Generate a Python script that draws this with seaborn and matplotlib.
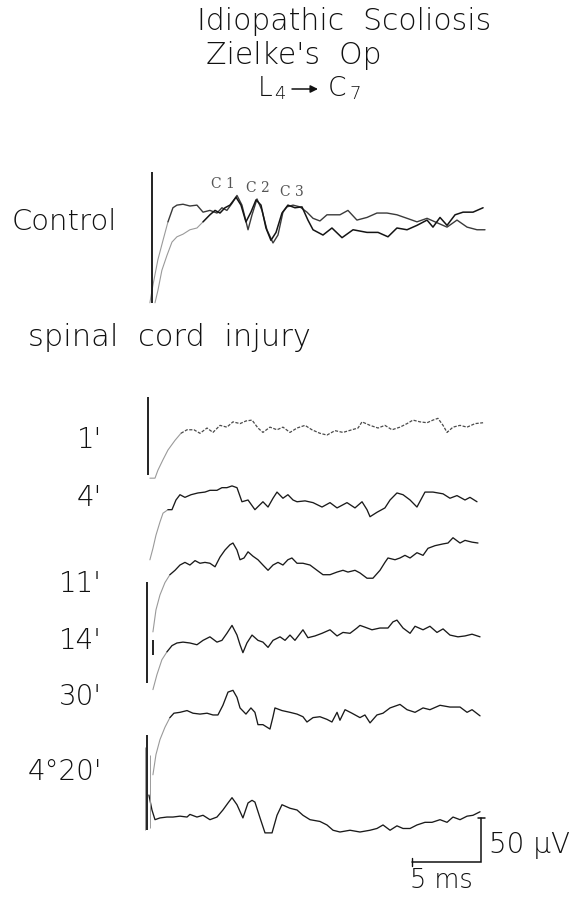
import numpy as np
import pandas as pd
import matplotlib
matplotlib.use("Agg")
import matplotlib.pyplot as plt
import seaborn as sns

sns.set_theme(style="white")
plt.rcParams["font.family"] = ["DejaVu Sans"]

# ---------------------------------------------------------------------------
# Spinal cord evoked potentials, L4 stimulation -> C7 recording.
# Time in ms after stimulus, amplitude in microvolts (positive up).
# ---------------------------------------------------------------------------

# Control, two superimposed sweeps
control_a_t = [0.14, 0.36, 0.72, 1.09, 1.45, 1.81, 2.10, 2.54, 3.04, 3.55, 3.99, 4.49, 5.00, 5.36,
               5.72, 6.09, 6.45, 6.81, 7.25, 7.54, 7.90, 8.26, 8.62, 9.06, 9.42, 9.78, 10.07, 10.51,
               11.01, 11.52, 11.96, 12.46, 12.97, 13.91, 14.49, 15.14, 15.87, 16.59, 17.32, 18.04,
               18.77, 19.49, 20.22, 20.94, 21.67, 22.39, 23.12, 23.84, 24.42]
control_a_uv = [-102, -82, -53, -31, -10, 6, 9, 10, 8, 9, 1, 3, 0, 6,
                3, 11, 20, 9, -19, -2, 16, 3, -19, -34, -25, 1, 7, 9,
                7, 1, -6, -9, -2, -2, 3, -8, -5, 0, 0, -2,
                -6, -10, -6, -11, -16, -8, -16, -19, -19]

control_b_t = [0.51, 0.72, 1.01, 1.38, 1.74, 2.10, 2.54, 3.04, 3.55, 3.99, 4.49, 4.86, 5.22, 5.58,
               5.94, 6.38, 6.74, 7.10, 7.46, 7.83, 8.19, 8.55, 8.91, 9.28, 9.71, 10.14, 10.65, 11.16,
               11.59, 11.96, 12.68, 13.33, 14.06, 14.86, 15.87, 16.67, 17.39, 18.04, 18.77, 19.49,
               20.22, 20.65, 21.16, 21.67, 22.25, 22.83, 23.55, 24.28]
control_b_uv = [-102, -88, -65, -48, -33, -27, -24, -19, -17, -10, -2, 3, 0, 6,
                9, 18, 9, -10, 1, 15, 9, -17, -31, -22, 0, 9, 6, 7,
                -8, -19, -25, -17, -28, -19, -22, -22, -27, -17, -19, -14,
                -8, -16, -5, -14, -2, 1, 1, 6]

# After spinal cord injury
min1_t = [0.14, 0.51, 0.72, 1.09, 1.45, 1.96, 2.39, 2.83, 3.33, 3.77, 4.28, 4.71, 5.22, 5.72,
          6.16, 6.67, 7.10, 7.54, 7.97, 8.33, 8.84, 9.35, 9.78, 10.29, 10.80, 11.38, 11.88, 12.46,
          12.97, 13.55, 14.13, 14.78, 15.22, 15.51, 16.09, 16.67, 17.17, 17.68, 18.26, 18.77,
          19.20, 19.71, 20.22, 20.65, 21.01, 21.38, 21.67, 22.10, 22.61, 23.12, 23.70, 24.28]
min1_uv = [-57, -57, -48, -36, -25, -14, -6, -2, -2, -6, 0, -5, 3, 1,
           7, 5, 8, 9, 0, -5, 1, -2, 1, -5, 0, 3, -2, -6,
           -8, -3, -5, -2, 0, 7, 3, 0, 3, -2, 1, 5,
           9, 7, 6, 9, 11, 3, -5, 1, 3, 1, 5, 6]

min4_t = [0.14, 0.36, 0.58, 0.87, 1.09, 1.45, 1.74, 2.03, 2.32, 2.68, 3.12, 3.62, 4.13, 4.49,
          5.00, 5.36, 5.72, 6.09, 6.45, 6.81, 7.25, 7.75, 8.33, 8.70, 9.06, 9.35, 9.78, 10.14,
          10.51, 10.80, 11.38, 11.96, 12.61, 13.19, 13.70, 14.42, 15.00, 15.51, 15.87, 16.09,
          16.59, 17.17, 17.54, 18.04, 18.48, 18.99, 19.49, 20.07, 20.65, 21.38, 21.88, 22.39,
          22.97, 23.33, 23.84]
min4_uv = [-68, -55, -40, -25, -15, -11, -11, 0, 6, 3, 6, 8, 9, 11,
           11, 14, 14, 16, 14, -2, 0, -11, -2, -8, 2, 9, 2, 6,
           0, -2, -1, -3, -8, -3, -9, -3, -9, -2, -11, -19,
           -14, -9, 0, 8, 6, 0, -8, 9, 9, 7, 2, 5,
           0, 3, -2]

min11_t = [0.36, 0.58, 0.87, 1.23, 1.59, 1.96, 2.32, 2.68, 3.04, 3.41, 3.77, 4.13, 4.49, 4.86,
           5.22, 5.58, 5.94, 6.16, 6.45, 6.67, 6.96, 7.25, 7.61, 7.97, 8.33, 8.70, 9.06, 9.42,
           9.78, 10.14, 10.43, 10.80, 11.23, 11.74, 12.25, 12.68, 13.19, 13.70, 14.13, 14.49,
           15.00, 15.36, 15.87, 16.30, 16.81, 17.17, 17.39, 17.90, 18.26, 18.62, 18.99, 19.49,
           19.93, 20.29, 20.80, 21.38, 21.74, 22.10, 22.61, 22.97, 23.48, 23.91]
min11_uv = [-76, -51, -34, -20, -11, -6, 0, 3, 0, 5, 2, 3, 2, -2,
            9, 17, 23, 25, 17, 6, 8, 15, 10, 6, 0, -6, 0, 3,
            0, 6, 8, 2, 2, 0, -6, -11, -11, -8, -6, -8,
            -6, -9, -15, -15, -6, 3, 8, 6, 8, 11, 8, 14,
            11, 19, 22, 24, 25, 31, 25, 28, 26, 25]

min14_t = [0.36, 0.65, 1.01, 1.38, 1.74, 2.10, 2.54, 3.04, 3.55, 3.99, 4.49, 5.00, 5.36, 5.72,
           6.09, 6.45, 6.67, 6.88, 7.17, 7.54, 7.97, 8.33, 8.70, 9.06, 9.57, 9.93, 10.29, 10.65,
           11.23, 11.59, 12.10, 12.61, 13.19, 13.70, 14.13, 14.64, 15.14, 15.36, 15.72, 16.23,
           16.81, 17.39, 17.75, 18.04, 18.48, 18.99, 19.35, 19.93, 20.43, 20.94, 21.38, 21.88,
           22.46, 22.97, 23.48, 24.06]
min14_uv = [-53, -36, -19, -10, -3, 0, 1, 0, -2, 3, 7, 1, 3, 11,
            20, 9, -2, -11, 0, 9, 3, 1, -5, 3, 7, 3, 9, 3,
            15, 6, 8, 11, 15, 8, 12, 11, 17, 20, 18, 15,
            17, 17, 24, 26, 17, 11, 19, 15, 19, 12, 16, 9,
            7, 8, 10, 7]

min30_t = [0.36, 0.58, 0.87, 1.23, 1.59, 1.88, 2.32, 2.83, 3.26, 3.77, 4.28, 4.71, 5.07, 5.43,
           5.80, 6.16, 6.45, 6.67, 7.10, 7.46, 7.75, 7.97, 8.33, 8.84, 9.06, 9.20, 9.71, 10.29,
           10.80, 11.23, 11.52, 11.96, 12.46, 12.97, 13.33, 13.70, 13.91, 14.28, 14.78, 15.36,
           15.72, 16.09, 16.59, 17.03, 17.54, 18.26, 18.77, 19.35, 19.93, 20.43, 21.16, 21.88,
           22.61, 23.12, 23.48, 24.06]
min30_uv = [-68, -45, -28, -14, -3, 2, 3, 5, 2, 1, 2, 0, 0, 11,
            26, 28, 20, 8, 1, 8, 3, -11, -11, -16, -2, 8, 5, 3,
            1, -2, -8, -3, -2, -5, -8, 3, -6, 6, 2, -3,
            0, -9, 0, 2, 8, 12, 6, 3, 8, 6, 11, 9,
            9, 3, 6, -1]

h4m20_t = [0.07, 0.29, 0.51, 0.87, 1.38, 1.81, 2.32, 2.83, 3.04, 3.55, 3.99, 4.49, 5.00, 5.43,
           5.80, 6.09, 6.45, 6.88, 7.25, 7.54, 7.75, 8.12, 8.48, 8.99, 9.35, 9.71, 10.29, 10.80,
           11.23, 11.74, 12.46, 12.97, 13.41, 13.91, 14.64, 15.36, 16.09, 16.59, 17.03, 17.54,
           18.04, 18.48, 18.99, 19.49, 20.07, 20.58, 21.16, 21.67, 22.10, 22.61, 23.12, 23.55,
           24.06]
h4m20_uv = [25, 8, -3, -1, 0, 0, 1, 0, 3, 0, 2, -3, 0, 8,
            16, 22, 14, -1, 16, 19, 17, -1, -18, -18, 2, 14, 10, 8,
            2, -3, -5, -9, -15, -17, -15, -17, -15, -13, -9, -15,
            -10, -13, -13, -9, -6, -6, -3, -6, 0, -3, 1, 2,
            6]

# Stimulus artefacts: (time, top, bottom) per sweep group, in ms / microvolts
artefact_trace = ["Control", "1'", "14'", "14'", "4°20'", "4°20'", "4°20'"]
artefact_t = [0.29, 0.0, -0.07, 0.36, -0.07, -0.22, 0.14]
artefact_top = [47, 35, 69, 3, 93, 80, 70]
artefact_bottom = [-102, -53, -45, -14, -15, -15, -12]
artefact_strong = [True, True, True, True, True, False, False]

# Component labels on the control record
component_labels = ["C 1", "C 2", "C 3"]
component_t = [4.57, 7.10, 9.57]
component_uv = [25, 21, 16]

# Scale bar values
scale_ms = 5
scale_uv = 50

# ---------------------------------------------------------------------------
# Layout
# ---------------------------------------------------------------------------
W, H = 579, 898
fig = plt.figure(figsize=(W / 100, H / 100), dpi=100)
ax = fig.add_axes([0, 0, 1, 1])
X0, X1 = -10.72, 31.23
Y0, Y1 = 0.0, 1020.5
ax.set_xlim(X0, X1)
ax.set_ylim(Y0, Y1)
ax.axis("off")


def fx(px):
    return px / W


def fy(py):
    return 1 - py / H


# vertical position of each record's baseline (microvolt axis units)
offsets = {"Control": 778.4, "1'": 534.1, "4'": 452.3, "11'": 378.4,
           "14'": 289.8, "30'": 208.0, "4°20'": 92.0}

records = [
    ("Control", control_a_t, control_a_uv, "#3a3a3a", 1.0, "-"),
    ("Control", control_b_t, control_b_uv, "#141414", 1.1, "-"),
    ("1'", min1_t, min1_uv, "#4a4a4a", 0.9, (0, (2.5, 1.2))),
    ("4'", min4_t, min4_uv, "#1a1a1a", 0.95, "-"),
    ("11'", min11_t, min11_uv, "#1a1a1a", 0.95, "-"),
    ("14'", min14_t, min14_uv, "#1a1a1a", 0.95, "-"),
    ("30'", min30_t, min30_uv, "#1a1a1a", 0.95, "-"),
    ("4°20'", h4m20_t, h4m20_uv, "#1a1a1a", 0.95, "-"),
]

for name, t, uv, col, lw, ls in records:
    t = np.asarray(t, float)
    y = np.asarray(uv, float) + offsets[name]
    # the fast initial deflection is written faintly by the pen
    k = int(np.argmax(np.asarray(uv) > -12))
    rise = pd.DataFrame({"t": t[:k + 1], "y": y[:k + 1]})
    body = pd.DataFrame({"t": t[k:], "y": y[k:]})
    sns.lineplot(data=rise, x="t", y="y", ax=ax, color="#9a9a9a", linewidth=0.8,
                 estimator=None, sort=False, legend=False)
    sns.lineplot(data=body, x="t", y="y", ax=ax, color=col, linewidth=lw,
                 linestyle=ls, estimator=None, sort=False, legend=False)

for name, t, top, bot, strong in zip(artefact_trace, artefact_t, artefact_top,
                                     artefact_bottom, artefact_strong):
    base = offsets[name]
    ax.vlines(t, base + bot, base + top, colors="#111111" if strong else "#9a9a9a",
              linewidth=1.3 if strong else 0.7)

for lab, t, uv in zip(component_labels, component_t, component_uv):
    ax.text(t, offsets["Control"] + uv, lab, fontsize=10, color="#555555",
            ha="left", va="bottom", family=["DejaVu Serif"])

ink = "#111111"

# scale bar (lower right)
sb_t, sb_y = 24.13, 40.9
ax.plot([sb_t - scale_ms, sb_t, sb_t], [sb_y, sb_y, sb_y + scale_uv],
        color=ink, linewidth=1.1, solid_joinstyle="miter")
ax.plot([sb_t - 0.22, sb_t + 0.3], [sb_y + scale_uv] * 2, color=ink, linewidth=1.1)
ax.plot([sb_t - scale_ms] * 2, [sb_y - 5, sb_y + 5], color=ink, linewidth=1.0)
fig.text(fx(489), fy(845), f"{scale_uv} μV", fontsize=20, color=ink,
         ha="left", va="center", fontweight="light")
fig.text(fx(410), fy(880), f"{scale_ms} ms", fontsize=18.5, color=ink,
         ha="left", va="center", fontweight="light")

# titles
txt_kw = dict(color=ink, fontweight="light")
fig.text(fx(197), fy(22), "Idiopathic  Scoliosis", fontsize=21.5, ha="left", va="center", **txt_kw)
fig.text(fx(206), fy(55), "Zielke's  Op", fontsize=21.5, ha="left", va="center", **txt_kw)
fig.text(fx(258), fy(88), "L", fontsize=19, ha="left", va="center", **txt_kw)
fig.text(fx(274), fy(94), "4", fontsize=13, ha="left", va="center", **txt_kw)
ax.annotate("", xy=(fx(318), fy(89)), xytext=(fx(292), fy(89)),
            xycoords="figure fraction", textcoords="figure fraction",
            arrowprops=dict(arrowstyle="-|>", lw=1.1, color=ink, mutation_scale=11,
                            shrinkA=0, shrinkB=0))
fig.text(fx(328), fy(88), "C", fontsize=19, ha="left", va="center", **txt_kw)
fig.text(fx(349), fy(94), "7", fontsize=13, ha="left", va="center", **txt_kw)

# record labels
fig.text(fx(12), fy(222), "Control", fontsize=21, ha="left", va="center", **txt_kw)
fig.text(fx(28), fy(337), "spinal  cord  injury", fontsize=22, ha="left", va="center", **txt_kw)
time_labels = ["1'", "4'", "11'", "14'", "30'", "4°20'"]
label_y = [440, 498, 584, 641, 697, 772]
for lab, yy in zip(time_labels, label_y):
    fig.text(fx(102), fy(yy), lab, fontsize=20, ha="right", va="center", **txt_kw)

fig.savefig("out.png", dpi=100, facecolor="white")
